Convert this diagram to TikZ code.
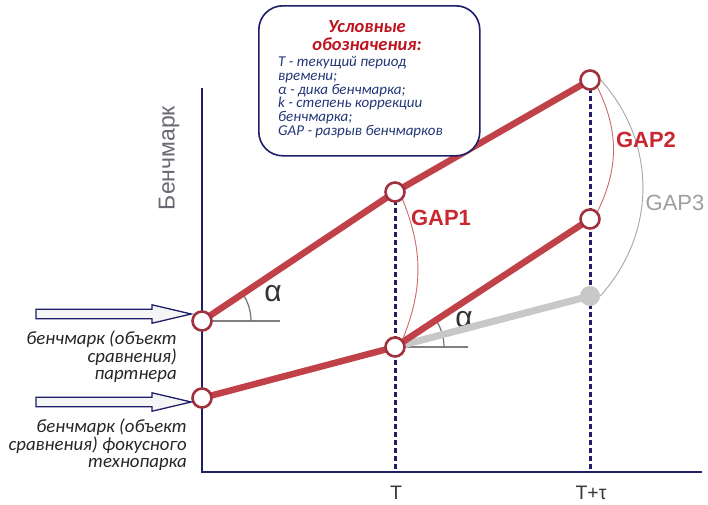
\documentclass[tikz,border=0pt]{standalone}
\usepackage{fontspec}
\setmainfont{Liberation Sans}
\newfontfamily\carl{Carlito}
\usetikzlibrary{calc}
\definecolor{redline}{RGB}{192,66,72}
\definecolor{ptborder}{RGB}{160,50,62}
\definecolor{navy}{RGB}{30,30,105}
\definecolor{legtext}{RGB}{35,55,120}
\definecolor{legtitle}{RGB}{190,20,30}
\definecolor{gapred}{RGB}{200,40,50}
\definecolor{greyl}{RGB}{200,200,200}
\definecolor{axlabel}{RGB}{105,105,115}
\begin{document}
\begin{tikzpicture}[x=1pt,y=-1pt,
  pt/.style={circle,draw=ptborder,line width=2.6pt,fill=white,minimum size=19pt,inner sep=0pt},
  gpt/.style={circle,fill=greyl,minimum size=20pt,inner sep=0pt},
  redseg/.style={draw=redline,line width=6.5pt},
  greyseg/.style={draw=greyl,line width=7pt},
  dotline/.style={draw=navy,line width=3pt,dash pattern=on 4.5pt off 3.5pt},
  axisline/.style={draw=navy,line width=2.6pt},
  refline/.style={draw=gray,line width=1.2pt},
  gaparc/.style={draw=redline!80,line width=0.9pt},
  gaparcg/.style={draw=gray!70,line width=0.9pt},
  gaplbl/.style={font=\bfseries\fontsize{22}{22}\selectfont,text=gapred},
  alpha/.style={font=\fontsize{30}{30}\selectfont,text=black!80},
  blockarrow/.style={draw=navy,line width=1.3pt,fill=gray!8},
  sidelbl/.style={font=\carl\itshape\fontsize{18.8}{17.2}\selectfont,align=right,text=black!85,inner sep=0pt},
  tlab/.style={font=\fontsize{19.5}{19.5}\selectfont,text=black!78},
]
\useasboundingbox (0,0) rectangle (708,504);
\fill[white] (0,0) rectangle (708,504);

% axes
\coordinate (O) at (202,472);
\coordinate (Ytop) at (202,88);
\coordinate (Xend) at (702,472);
\draw[axisline] (Ytop) -- (O) -- (Xend);
\node[rotate=90,font=\fontsize{23}{23}\selectfont,text=axlabel] (ylbl) at (169,158) {Бенчмарк};
\node[tlab] (tlbl) at (396,493) {T};
\node[tlab] (ttlbl) at (591,493) {T+τ};

% point coordinates
\coordinate (cP0) at (202,321);
\coordinate (cP1) at (395,192);
\coordinate (cP2) at (590,80);
\coordinate (cF0) at (202,398);
\coordinate (cF1) at (395,347);
\coordinate (cF2) at (590,219);
\coordinate (cG2) at (590,296);

% dotted verticals
\draw[dotline] (cP1) -- (cP1 |- O);
\draw[dotline] (cP2) -- (cP2 |- O);

% reference lines and angles
\draw[refline] (cP0) -- ++(78,0) coordinate (r0);
\draw[refline] (cF1) -- ++(73,0) coordinate (r1);
\draw[gray!90!black,line width=1.2pt] ($(cP0)+(49,0)$) arc[start angle=0,end angle=-33.8,radius=49];
\draw[gray!90!black,line width=1.2pt] ($(cF1)+(49,0)$) arc[start angle=0,end angle=-33.3,radius=49];
\node[alpha] (a0) at (273,294) {α};
\node[alpha] (a1) at (464,320) {α};

% grey projected line
\draw[greyseg] (cF1) -- (cG2);
\node[gpt] (G2) at (cG2) {};

% red lines
\draw[redseg] (cP0) -- (cP1) -- (cP2);
\draw[redseg] (cF0) -- (cF1) -- (cF2);

% points
\node[pt] (P0) at (cP0) {};
\node[pt] (P1) at (cP1) {};
\node[pt] (P2) at (cP2) {};
\node[pt] (F0) at (cF0) {};
\node[pt] (F1) at (cF1) {};
\node[pt] (F2) at (cF2) {};

% gap arcs
\draw[gaparc] (P1.south east) to[bend left=22] (F1.north east);
\draw[gaparc] (P2.south east) to[bend left=26] (F2.north east);
\draw[gaparcg] (P2.east) to[bend left=42] (G2.east);
\node[gaplbl] (gap1) at (441,218) {GAP1};
\node[gaplbl] (gap2) at (646,140) {GAP2};
\node[font=\fontsize{22}{22}\selectfont,text=gray!75] (gap3) at (675,203) {GAP3};

% block arrows
\coordinate (A1) at (36,314);
\coordinate (A2) at (36,402);
\draw[blockarrow] ($(A1)+(0,-4.7)$) -- ($(A1)+(116,-4.7)$) -- ($(A1)+(116,-9.2)$) -- (P0.west |- A1) -- ($(A1)+(116,9.2)$) -- ($(A1)+(116,4.7)$) -- ($(A1)+(0,4.7)$) -- cycle;
\draw[blockarrow] ($(A2)+(0,-4.7)$) -- ($(A2)+(116,-4.7)$) -- ($(A2)+(116,-9.2)$) -- (F0.west |- A2) -- ($(A2)+(116,9.2)$) -- ($(A2)+(116,4.7)$) -- ($(A2)+(0,4.7)$) -- cycle;

% side labels
\node[sidelbl,anchor=north east] (lblP) at (177,331) {бенчмарк (объект\\сравнения)\\партнера};
\node[sidelbl,anchor=north east] (lblF) at (187,419) {бенчмарк (объект\\сравнения) фокусного\\технопарка};

% legend
\node[draw=navy,line width=1.6pt,rounded corners=24pt,fill=white,minimum width=221pt,minimum height=150pt,anchor=north west] (legend) at (258,5) {};
\node[font=\carl\bfseries\itshape\fontsize{18.5}{17.5}\selectfont,text=legtitle,align=center,inner sep=0pt] (ltitle) at (367,35.5) {Условные\\обозначения:};
\node[font=\carl\itshape\fontsize{15}{13.7}\selectfont,text=legtext,align=left,anchor=north west,inner sep=0pt] (lbody) at (278,56.5) {T - текущий период\\времени;\\α - дика бенчмарка;\\k - степень коррекции\\бенчмарка;\\GAP - разрыв бенчмарков};
\end{tikzpicture}
\end{document}
